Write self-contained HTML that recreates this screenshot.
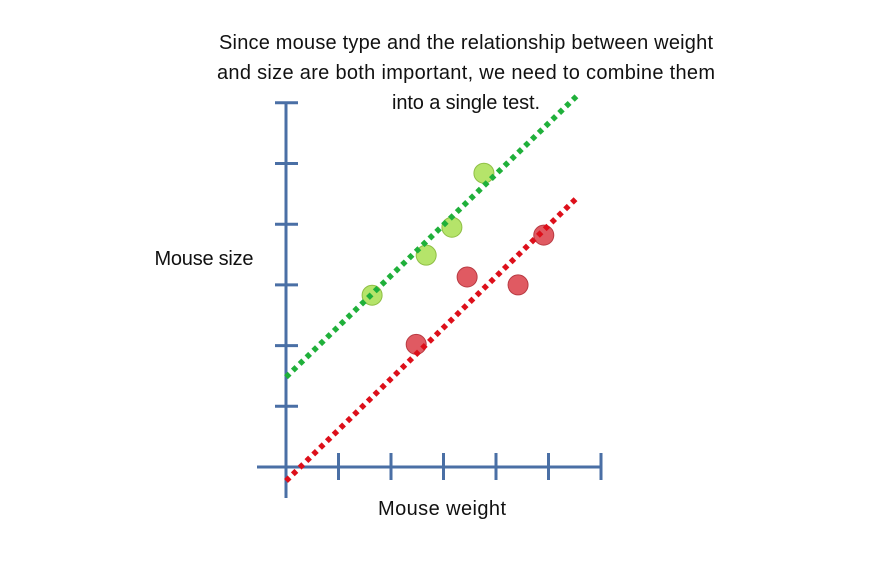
<!DOCTYPE html>
<html><head><meta charset="utf-8"><style>
html,body{margin:0;padding:0;background:#fff;}
svg{display:block;font-family:"Liberation Sans",sans-serif;}
</style></head><body>
<svg id="chart" width="883" height="576" viewBox="0 0 883 576">
<text x="466" y="49" text-anchor="middle" font-size="20" fill="#111" textLength="494">Since mouse type and the relationship between weight</text>
<text x="466" y="79" text-anchor="middle" font-size="20" fill="#111" textLength="498">and size are both important, we need to combine them</text>
<text x="466" y="109" text-anchor="middle" font-size="20" fill="#111" textLength="148">into a single test.</text>
<text x="204" y="265" text-anchor="middle" font-size="20" fill="#111" textLength="99">Mouse size</text>
<text x="442" y="515" text-anchor="middle" font-size="20" fill="#111" textLength="128">Mouse weight</text>
<g id="axes"></g><g id="points"></g><g id="lines"></g>
</svg>
<script>
const xTicks=[0,1,2,3,4,5,6];
const yTicks=[0,1,2,3,4,5,6];
const greenX=[1.64,2.67,3.16,3.77];
const greenY=[2.83,3.49,3.95,4.84];
const redX=[2.48,3.45,4.42,4.91];
const redY=[2.02,3.13,3.0,3.82];
const greenLine=[[0,1.48],[5.56,6.13]];
const redLine=[[0,-0.23],[5.56,4.45]];
const NS="http://www.w3.org/2000/svg";
const X0=286,Y0=467,XU=52.5,YU=60.7;
const sx=v=>X0+v*XU, sy=v=>Y0-v*YU;
function mk(tag,attrs,parent){const e=document.createElementNS(NS,tag);for(const k in attrs)e.setAttribute(k,attrs[k]);document.getElementById(parent).appendChild(e);return e;}
const ax="#4a6fa5";
let e=mk('line',{x1:X0,y1:103,x2:X0,y2:498,stroke:ax,'stroke-width':3},'axes');


e=mk('line',{x1:257,y1:Y0,x2:602,y2:Y0,stroke:ax,'stroke-width':3},'axes');


xTicks.forEach(t=>{if(t===0)return;const l=mk('line',{x1:sx(t),y1:453,x2:sx(t),y2:480,stroke:ax,'stroke-width':3},'axes');

});
yTicks.forEach(t=>{if(t===0)return;const l=mk('line',{x1:275,y1:sy(t),x2:298,y2:sy(t),stroke:ax,'stroke-width':3},'axes');

});
greenX.forEach((x,i)=>{const c=mk('circle',{cx:sx(x),cy:sy(greenY[i]),r:10,fill:'#b5e46a',stroke:'#8fbf45','stroke-width':1},'points');

});
redX.forEach((x,i)=>{const c=mk('circle',{cx:sx(x),cy:sy(redY[i]),r:10,fill:'#e05a62',stroke:'#b83a42','stroke-width':1},'points');

});
[[greenLine,'#1fb03a','green-fit-line'],[redLine,'#dd0f1a','red-fit-line']].forEach(([L,c,n])=>{
const l=mk('line',{x1:sx(L[0][0]),y1:sy(L[0][1]),x2:sx(L[1][0]),y2:sy(L[1][1]),stroke:c,'stroke-width':5.5,'stroke-dasharray':'5 4.5'},'lines');

});
</script>
</body></html>
